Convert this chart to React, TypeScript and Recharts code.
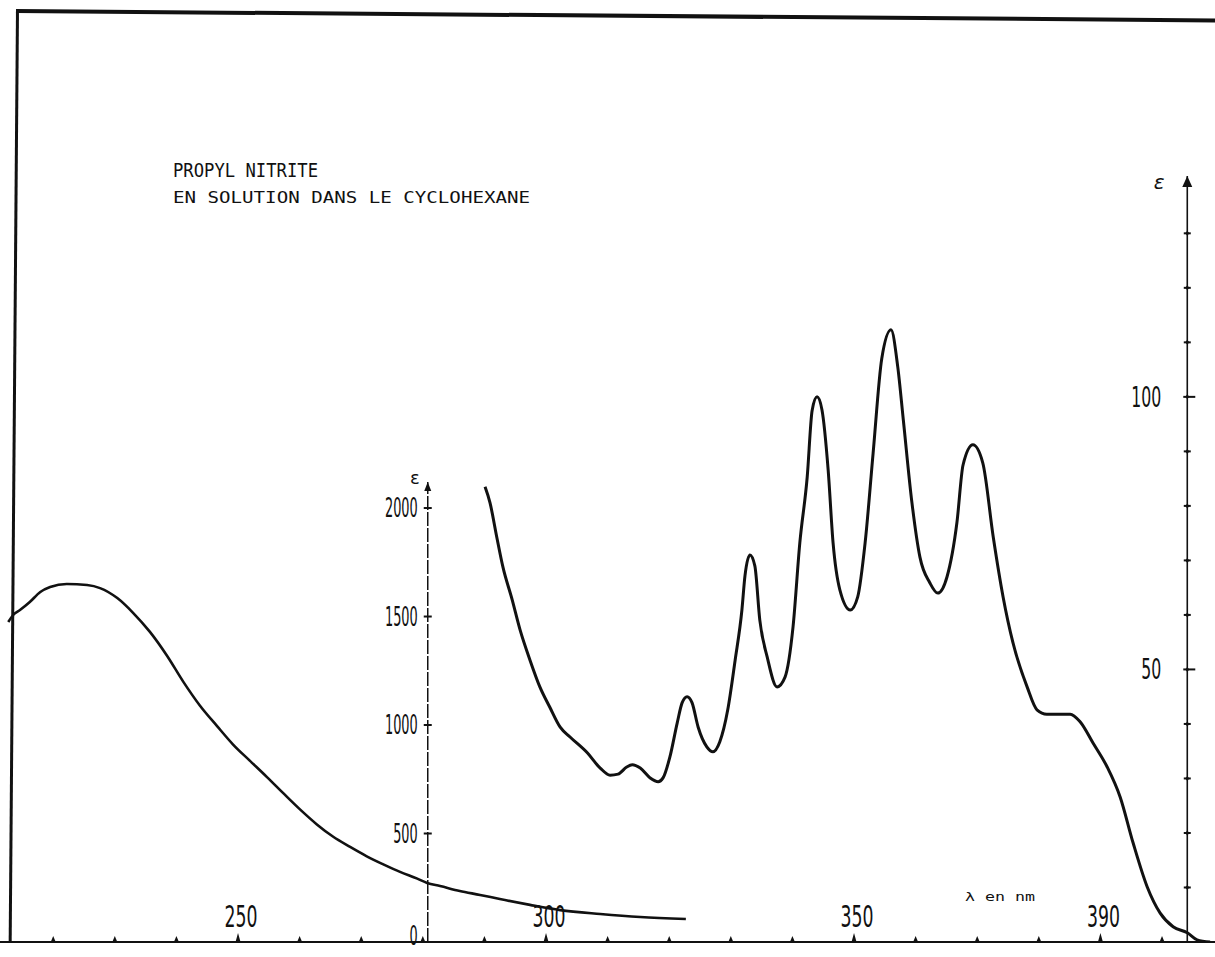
import React from 'react';
import { ComposedChart, Line, XAxis, YAxis, ReferenceLine, ReferenceDot } from 'recharts';

// ---- data (wavelength in nm, molar absorption coefficient) ----
const LEFT_NM = [212.7, 213.5, 214.6, 216.2, 217.9, 219.5, 222.2, 225.5, 227.6, 230.4, 233.0, 235.7, 238.5, 241.1, 243.8, 246.6, 249.2, 251.9, 254.7, 257.3, 260.1, 262.8, 265.4, 268.2, 270.9, 273.5, 276.3, 279.1, 280.7, 282.8, 286.0, 289.3, 292.5, 297.4, 302.3, 308.8, 315.3, 322.7];
const LEFT_EPS = [1475, 1507, 1530, 1567, 1613, 1636, 1650, 1645, 1631, 1585, 1516, 1429, 1318, 1200, 1090, 995, 910, 836, 760, 687, 610, 542, 486, 438, 395, 359, 323, 292, 272, 258, 235, 217, 198, 171, 147, 129, 115, 106];

const RIGHT_NM = [290.1, 290.9, 292.0, 293.0, 294.5, 295.8, 297.4, 299.0, 300.6, 302.3, 303.9, 306.7, 308.8, 310.4, 311.7, 313.1, 314.0, 315.3, 316.9, 318.2, 319.0, 320.1, 321.3, 322.1, 322.9, 323.7, 324.7, 326.1, 327.1, 328.2, 329.5, 330.7, 331.8, 332.3, 333.1, 333.9, 334.7, 335.9, 337.5, 338.8, 340.1, 341.2, 342.4, 343.2, 344.0, 344.8, 345.8, 346.6, 347.7, 349.4, 350.6, 351.8, 353.1, 354.5, 356.0, 357.1, 358.0, 359.4, 360.7, 362.3, 363.6, 365.1, 366.7, 367.7, 369.3, 370.9, 372.6, 374.2, 375.8, 378.1, 379.7, 381.3, 385.1, 386.7, 388.8, 391.1, 393.2, 395.3, 397.6, 399.7, 401.8, 404.1, 405.7, 407.8];
const RIGHT_EPS = [83.5, 80.6, 74.3, 68.8, 62.8, 57.2, 51.7, 46.8, 43.1, 39.4, 37.6, 34.7, 31.9, 30.6, 30.8, 32.1, 32.5, 31.9, 30.1, 29.4, 30.1, 33.9, 40.2, 43.9, 45.0, 43.9, 39.4, 35.8, 34.9, 36.7, 42.6, 51.7, 60.9, 67.2, 71.0, 69.0, 59.1, 52.3, 46.8, 48.6, 57.8, 73.2, 85.3, 97.5, 100.0, 97.6, 86.6, 73.2, 64.6, 60.9, 63.3, 73.2, 89.7, 107.0, 112.3, 105.5, 95.8, 80.6, 70.6, 65.9, 64.0, 67.0, 76.9, 87.5, 91.2, 87.9, 74.3, 63.3, 54.9, 46.8, 42.6, 41.8, 41.8, 40.4, 36.5, 32.1, 26.6, 18.2, 10.1, 5.3, 2.8, 1.7, 0.4, 0];

// ---- ticks / labels ----
const X_TICKS = [220, 230, 240, 250, 260, 270, 280, 290, 300, 310, 320, 330, 340, 350, 360, 370, 380, 390, 400];
const X_LABELS = [250, 300, 350, 390];
const LEFT_TICKS = [500, 1000, 1500, 2000];
const LEFT_LABELS = [0, 500, 1000, 1500, 2000];
const RIGHT_TICKS = [10, 20, 30, 40, 50, 60, 70, 80, 90, 100, 110, 120, 130];
const RIGHT_LABELS = [50, 100];

const TITLE = 'PROPYL NITRITE';
const SUBTITLE = 'EN SOLUTION DANS LE CYCLOHEXANE';
const X_UNIT = 'λ en nm';
const Y_SYMBOL = 'ε';

// ---- axis layout (data units) ----
const X_DOMAIN: [number, number] = [211.36, 408.6];
const LEFT_DOMAIN: [number, number] = [0, 4286];
const RIGHT_DOMAIN: [number, number] = [0, 170.6];
const LEFT_AXIS_NM = 280.8;
const LEFT_AXIS_TOP = 2120;
const RIGHT_AXIS_NM = 404.1;
const RIGHT_AXIS_TOP = 140.5;

const W = 1215;
const H = 957;
const PLOT_TOP = 12;
const X_AXIS_H = 15;
const INK = '#111';
const NUM_FONT = '"DejaVu Sans", sans-serif';
const TYPE_FONT = '"DejaVu Sans Mono", "Liberation Mono", monospace';

const leftData = LEFT_NM.map((nm, i) => ({ nm, eps: LEFT_EPS[i] }));
const rightData = RIGHT_NM.map((nm, i) => ({ nm, eps: RIGHT_EPS[i] }));

const numWidth = (s: string, per: number) => s.length * per;

function XTick(props: any) {
  const { x, y, payload } = props;
  const v = payload.value;
  const labelled = X_LABELS.includes(v);
  const h = labelled ? 9 : 6;
  const s = String(v);
  return (
    <g>
      <path d={`M${x - 2.5},${y} L${x},${y - h} L${x + 2.5},${y} Z`} fill={INK} />
      {labelled && (
        <text x={x + 3} y={y - 15} textAnchor="middle" fontFamily={NUM_FONT} fontSize={30}
          textLength={numWidth(s, 11)} lengthAdjust="spacingAndGlyphs" fill={INK}>{s}</text>
      )}
    </g>
  );
}

const leftTickShape = (props: any) => {
  const { cx, cy } = props;
  return <line x1={cx - 4} x2={cx + 4} y1={cy} y2={cy} stroke={INK} strokeWidth={2} />;
};

const makeLeftLabel = (v: number) => (props: any) => {
  const { cx, cy } = props;
  const s = String(v);
  return (
    <text x={cx - 10} y={cy + (v === 0 ? 3 : 9)} textAnchor="end" fontFamily={NUM_FONT} fontSize={26}
      textLength={numWidth(s, 8.2)} lengthAdjust="spacingAndGlyphs" fill={INK}>{s}</text>
  );
};

const makeRightTick = (v: number) => (props: any) => {
  const { cx, cy } = props;
  const big = RIGHT_LABELS.includes(v);
  return (
    <g>
      <line x1={cx - (big ? 4 : 3.5)} x2={cx + (big ? 8 : 3.5)} y1={cy} y2={cy} stroke={INK} strokeWidth={2} />
      <path d={`M${cx - 2},${cy} L${cx},${cy - 2.5} L${cx + 2},${cy} L${cx},${cy + 2.5} Z`} fill={INK} />
    </g>
  );
};

const makeRightLabel = (v: number) => (props: any) => {
  const { cx, cy } = props;
  const s = String(v);
  return (
    <text x={cx - 26} y={cy + 10} textAnchor="end" fontFamily={NUM_FONT} fontSize={28}
      textLength={numWidth(s, 10)} lengthAdjust="spacingAndGlyphs" fill={INK}>{s}</text>
  );
};

const leftArrow = (props: any) => {
  const { cx, cy } = props;
  return (
    <g>
      <path d={`M${cx - 3.5},${cy + 9} L${cx},${cy} L${cx + 3.5},${cy + 9} Z`} fill={INK} />
      <text x={cx - 13} y={cy + 2} textAnchor="middle" fontFamily={NUM_FONT} fontSize={18} fill={INK}>{Y_SYMBOL}</text>
    </g>
  );
};

const rightArrow = (props: any) => {
  const { cx, cy } = props;
  return (
    <g>
      <path d={`M${cx - 5},${cy + 11} L${cx},${cy} L${cx + 5},${cy + 11} Z`} fill={INK} />
      <text x={cx - 28} y={cy + 13} textAnchor="middle" fontFamily={NUM_FONT} fontSize={20} fontStyle="italic" fill={INK}>{Y_SYMBOL}</text>
    </g>
  );
};

export default function App() {
  return (
    <div style={{ position: 'absolute', left: 0, top: 0, width: W, height: H, overflow: 'hidden', background: '#fff' }}>
      <div style={{
        position: 'absolute', left: 16, top: 9, width: 1260, height: 932,
        borderTop: `4px solid ${INK}`, borderLeft: `3px solid ${INK}`,
        transform: 'rotate(0.45deg)', transformOrigin: '0 0', boxSizing: 'border-box',
      }} />
      <div style={{ position: 'absolute', left: 0, top: 0 }}>
        <ComposedChart width={W} height={H} margin={{ top: PLOT_TOP, right: 0, bottom: 0, left: 0 }}>
          <XAxis dataKey="nm" type="number" domain={X_DOMAIN} allowDataOverflow ticks={X_TICKS} interval={0}
            height={X_AXIS_H} tickSize={0} tickMargin={0} tickLine={false}
            axisLine={{ stroke: INK, strokeWidth: 2 }} tick={<XTick />} />
          <YAxis yAxisId="left" type="number" domain={LEFT_DOMAIN} allowDataOverflow hide />
          <YAxis yAxisId="right" type="number" domain={RIGHT_DOMAIN} allowDataOverflow hide />

          <ReferenceLine yAxisId="left" stroke={INK} strokeWidth={1.5} strokeDasharray="14 2"
            segment={[{ x: LEFT_AXIS_NM, y: 0 }, { x: LEFT_AXIS_NM, y: LEFT_AXIS_TOP }]} />
          <ReferenceLine yAxisId="right" stroke={INK} strokeWidth={1.6}
            segment={[{ x: RIGHT_AXIS_NM, y: 0 }, { x: RIGHT_AXIS_NM, y: RIGHT_AXIS_TOP }]} />

          {LEFT_TICKS.map((v) => (
            <ReferenceDot key={`lt${v}`} yAxisId="left" x={LEFT_AXIS_NM} y={v} shape={leftTickShape} />
          ))}
          {LEFT_LABELS.map((v) => (
            <ReferenceDot key={`ll${v}`} yAxisId="left" x={LEFT_AXIS_NM} y={v} shape={makeLeftLabel(v)} />
          ))}
          {RIGHT_TICKS.map((v) => (
            <ReferenceDot key={`rt${v}`} yAxisId="right" x={RIGHT_AXIS_NM} y={v} shape={makeRightTick(v)} />
          ))}
          {RIGHT_LABELS.map((v) => (
            <ReferenceDot key={`rl${v}`} yAxisId="right" x={RIGHT_AXIS_NM} y={v} shape={makeRightLabel(v)} />
          ))}
          <ReferenceDot yAxisId="left" x={LEFT_AXIS_NM} y={LEFT_AXIS_TOP} shape={leftArrow} />
          <ReferenceDot yAxisId="right" x={RIGHT_AXIS_NM} y={RIGHT_AXIS_TOP} shape={rightArrow} />

          <Line data={leftData} dataKey="eps" yAxisId="left" type="monotone" dot={false} activeDot={false}
            stroke={INK} strokeWidth={2.6} isAnimationActive={false} />
          <Line data={rightData} dataKey="eps" yAxisId="right" type="monotone" dot={false} activeDot={false}
            stroke={INK} strokeWidth={3} isAnimationActive={false} />
        </ComposedChart>
      </div>
      <svg width={W} height={H} style={{ position: 'absolute', left: 0, top: 0, pointerEvents: 'none' }}>
        <text x={173} y={177} fontFamily={TYPE_FONT} fontSize={20} textLength={145} lengthAdjust="spacingAndGlyphs" fill={INK}>{TITLE}</text>
        <text x={173} y={203} fontFamily={TYPE_FONT} fontSize={15} textLength={357} lengthAdjust="spacingAndGlyphs" fill={INK}>{SUBTITLE}</text>
        <text x={965} y={901} fontFamily={TYPE_FONT} fontSize={12} textLength={70} lengthAdjust="spacingAndGlyphs" fill={INK}>{X_UNIT}</text>
      </svg>
    </div>
  );
}
